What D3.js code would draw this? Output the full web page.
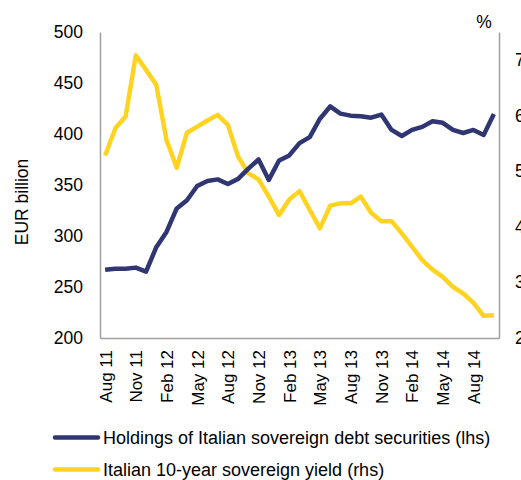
<!DOCTYPE html>
<html><head><meta charset="utf-8">
<script src="https://cdn.jsdelivr.net/npm/d3@7"></script>
<style>body{margin:0;background:#fff;} svg{display:block;font-family:"Liberation Sans",Arial,sans-serif;}</style>
</head><body>
<svg id="c" width="521" height="480"></svg>
<script>
const months = ["Aug 11","Sep 11","Oct 11","Nov 11","Dec 11","Jan 12","Feb 12","Mar 12","Apr 12","May 12","Jun 12","Jul 12","Aug 12","Sep 12","Oct 12","Nov 12","Dec 12","Jan 13","Feb 13","Mar 13","Apr 13","May 13","Jun 13","Jul 13","Aug 13","Sep 13","Oct 13","Nov 13","Dec 13","Jan 14","Feb 14","Mar 14","Apr 14","May 14","Jun 14","Jul 14","Aug 14","Sep 14","Oct 14"];
const holdings = [267,268,268,269,265,289,304,327,335,349,354,355.5,351,356,366,375,355,374,379,391,397,415,427,420,418,417.5,416,419,404,398,404,407,412.5,411,404,401,404,399,419.5];
const yield10 = [5.28,5.77,5.98,7.08,6.82,6.55,5.56,5.06,5.69,5.80,5.91,6.01,5.83,5.26,4.96,4.85,4.54,4.21,4.49,4.64,4.30,3.97,4.38,4.42,4.42,4.54,4.25,4.10,4.10,3.88,3.64,3.40,3.23,3.10,2.92,2.80,2.63,2.40,2.41];
const xTickLabels = ["Aug 11","Nov 11","Feb 12","May 12","Aug 12","Nov 12","Feb 13","May 13","Aug 13","Nov 13","Feb 14","May 14","Aug 14"];
const leftTicks = [200,250,300,350,400,450,500];
const rightTicks = [2,3,4,5,6,7];
const seriesNames = ["Holdings of Italian sovereign debt securities (lhs)","Italian 10-year sovereign yield (rhs)"];
const colors = ["#2f3672","#ffd320"];

const svg = d3.select("#c");
const L=100, R=499, T=32, B=338;
const x = d3.scalePoint().domain(months).range([L,R]).padding(0.5);
const yL = d3.scaleLinear().domain([200,500]).range([B,T]);
const yR = d3.scaleLinear().domain([2,7.5]).range([B,T]);
const axisColor = "#a0a0a0";
const FS = 17.5;

// axes
const gL = svg.append("g").attr("transform",`translate(${L},0)`)
  .call(d3.axisLeft(yL).tickValues(leftTicks).tickSize(0).tickPadding(17));
const gR = svg.append("g").attr("transform",`translate(${R},0)`)
  .call(d3.axisRight(yR).tickValues(rightTicks).tickSize(0).tickPadding(16));
const gB = svg.append("g").attr("transform",`translate(0,${B})`)
  .call(d3.axisBottom(x).tickValues(xTickLabels).tickSize(0));
[gL,gR,gB].forEach(g=>{
  g.select(".domain").attr("stroke",axisColor).attr("stroke-width",1.5);
  g.selectAll("text").attr("font-size",FS).attr("fill","#000").attr("font-family","Liberation Sans, Arial, sans-serif");
});
gB.selectAll("text")
  .attr("font-size",17)
  .attr("transform","rotate(-90)")
  .attr("text-anchor","end")
  .attr("x",-12).attr("y",0).attr("dy","0.35em");

svg.append("text").attr("transform","translate(22,202) rotate(-90)")
  .attr("text-anchor","middle").attr("dy","0.35em").attr("font-size",FS).text("EUR billion");
svg.append("text").attr("x",484).attr("y",28).attr("text-anchor","middle").attr("font-size",FS).text("%");

// lines
const lineL = d3.line().x((d,i)=>x(months[i])).y(d=>yL(d));
const lineR = d3.line().x((d,i)=>x(months[i])).y(d=>yR(d));
svg.append("path").datum(yield10).attr("d",lineR).attr("fill","none")
  .attr("stroke",colors[1]).attr("stroke-width",4.5).attr("stroke-linejoin","round");
svg.append("path").datum(holdings).attr("d",lineL).attr("fill","none")
  .attr("stroke",colors[0]).attr("stroke-width",4.5).attr("stroke-linejoin","round");

// legend
const leg = svg.append("g");
seriesNames.forEach((n,i)=>{
  const yy = 437.5 + i*32;
  leg.append("line").attr("x1",55).attr("x2",98).attr("y1",yy).attr("y2",yy)
    .attr("stroke",colors[i]).attr("stroke-width",4.5).attr("stroke-linecap","round");
  leg.append("text").attr("x",103).attr("y",yy).attr("dy","0.35em").attr("font-size",18).text(n);
});
</script>
</body></html>
